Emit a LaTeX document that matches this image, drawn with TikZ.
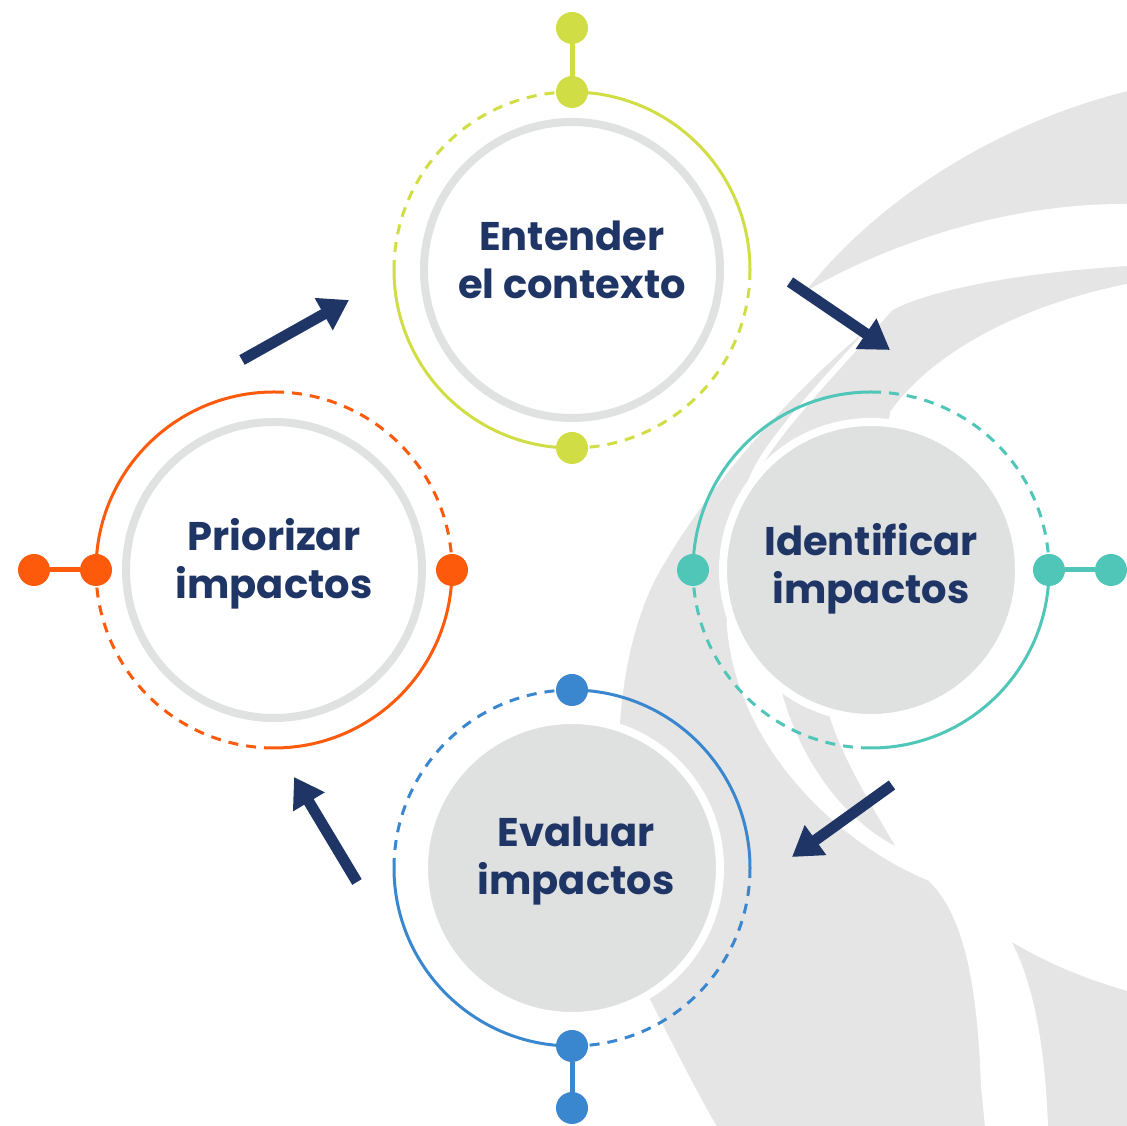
\documentclass[tikz,border=0pt]{standalone}
\usepackage{fontspec}
\setmainfont{Poppins}
\usetikzlibrary{positioning,arrows.meta}

\definecolor{navy}{HTML}{1F3566}
\definecolor{cLime}{HTML}{D0DD45}
\definecolor{cTeal}{HTML}{50C6B8}
\definecolor{cBlue}{HTML}{3A87D0}
\definecolor{cOrange}{HTML}{FE5A0C}
\definecolor{ringgray}{HTML}{E0E1E1}
\definecolor{hubgray}{HTML}{DFE0E0}
\definecolor{swirl}{HTML}{E5E5E5}

\tikzset{
  hub/.style={circle, minimum size=296pt, inner sep=0pt, line width=8pt},
  hubw/.style={hub, fill=white, draw=ringgray},
  hubg/.style={hub, fill=hubgray, draw=white},
  bead/.style={circle, minimum size=32pt, inner sep=0pt},
  lbl/.style={font=\bfseries\fontsize{40}{48}\selectfont, text=navy, align=center},
  solidarc/.style={line width=3pt},
  dasharc/.style={line width=3pt, dash pattern=on 10pt off 8pt},
  stem/.style={line width=5pt},
  flow/.style={line width=11pt, navy, -{Triangle[length=29pt,width=35pt]}},
  blade/.style={fill=swirl, draw=white, line width=6pt},
}

\begin{document}
\begin{tikzpicture}[x=1pt, y=1pt, on grid]
\useasboundingbox (0,0) rectangle (1127,1126);
%
% swirl in the back
\filldraw [blade] (1150,1045) -- (1127,1038) .. controls (975,1000) and (855,910) .. (793,823)
  .. controls (850,860) and (980,920) .. (1127,919) -- (1150,919) -- cycle;
\filldraw [blade] (890,818) .. controls (810,760) and (700,640) .. (650,543)
  .. controls (630,500) and (620,450) .. (617,403)
  .. controls (600,300) and (610,200) .. (648,124)
  .. controls (665,90) and (690,40) .. (713,0) -- (716,-20) -- (990,-20) -- (984,40)
  .. controls (980,150) and (965,215) .. (930,248)
  .. controls (840,285) and (740,380) .. (730,499)
  .. controls (728,560) and (735,610) .. (753,649)
  .. controls (770,690) and (840,760) .. (890,818) -- cycle;
\filldraw [blade] (1150,865) -- (1127,863) .. controls (1000,855) and (920,835) .. (890,818)
  .. controls (840,760) and (770,690) .. (753,649)
  .. controls (735,600) and (745,500) .. (778,436)
  .. controls (795,370) and (840,300) .. (903,273)
  .. controls (875,320) and (845,370) .. (833,409)
  -- (871,556) -- (893,713)
  .. controls (930,765) and (1010,815) .. (1127,839) -- (1150,839) -- cycle;
\filldraw [blade] (1003,193) .. controls (1040,170) and (1080,150) .. (1150,132)
  -- (1150,-20) -- (1045,-20) -- (1045,0)
  .. controls (1042,80) and (1030,150) .. (1003,193) -- cycle;
%
% the four steps
\node [hubw] (ctx) at (572,856) {};
\node [hubg, below right = 300pt and 299pt of ctx] (idf) {};
\node [hubg, below left = 298pt and 299pt of idf] (eva) {};
\node [hubw, below left = 300pt and 298pt of ctx] (pri) {};

\node [lbl, yshift=10pt] (ctx-t) at (ctx) {Entender\\el contexto};
\node [lbl, yshift=1pt] (idf-t) at (idf) {Identificar\\impactos};
\node [lbl, xshift=4pt, yshift=7pt] (eva-t) at (eva) {Evaluar\\impactos};
\node [lbl, yshift=6pt] (pri-t) at (pri) {Priorizar\\impactos};
%
% rings
\draw [solidarc, cLime] ([yshift=178pt]ctx.center) arc (90:0:178pt)
  ([yshift=-178pt]ctx.center) arc (270:180:178pt);
\draw [dasharc, cLime] ([xshift=178pt]ctx.center) arc (0:-90:178pt)
  ([xshift=-178pt]ctx.center) arc (180:90:178pt);
\node [bead, fill=cLime] (ctx-n) at ([yshift=178pt]ctx.center) {};
\node [bead, fill=cLime] (ctx-s) at ([yshift=-178pt]ctx.center) {};
\node [bead, fill=cLime, above = 64pt of ctx-n] (ctx-x) {};
\draw [stem, cLime] (ctx-n) -- (ctx-x);

\draw [solidarc, cTeal] ([xshift=-178pt]idf.center) arc (180:90:178pt)
  ([xshift=178pt]idf.center) arc (0:-90:178pt);
\draw [dasharc, cTeal] ([yshift=178pt]idf.center) arc (90:0:178pt)
  ([yshift=-178pt]idf.center) arc (270:180:178pt);
\node [bead, fill=cTeal] (idf-w) at ([xshift=-178pt]idf.center) {};
\node [bead, fill=cTeal] (idf-e) at ([xshift=178pt]idf.center) {};
\node [bead, fill=cTeal, right = 62pt of idf-e] (idf-x) {};
\draw [stem, cTeal] (idf-e) -- (idf-x);

\draw [solidarc, cBlue] ([yshift=178pt]eva.center) arc (90:0:178pt)
  ([yshift=-178pt]eva.center) arc (270:180:178pt);
\draw [dasharc, cBlue] ([xshift=178pt]eva.center) arc (0:-90:178pt)
  ([xshift=-178pt]eva.center) arc (180:90:178pt);
\node [bead, fill=cBlue] (eva-n) at ([yshift=178pt]eva.center) {};
\node [bead, fill=cBlue] (eva-s) at ([yshift=-178pt]eva.center) {};
\node [bead, fill=cBlue, below = 62pt of eva-s] (eva-x) {};
\draw [stem, cBlue] (eva-s) -- (eva-x);

\draw [solidarc, cOrange] ([xshift=-178pt]pri.center) arc (180:90:178pt)
  ([xshift=178pt]pri.center) arc (0:-90:178pt);
\draw [dasharc, cOrange] ([yshift=178pt]pri.center) arc (90:0:178pt)
  ([yshift=-178pt]pri.center) arc (270:180:178pt);
\node [bead, fill=cOrange] (pri-w) at ([xshift=-178pt]pri.center) {};
\node [bead, fill=cOrange] (pri-e) at ([xshift=178pt]pri.center) {};
\node [bead, fill=cOrange, left = 62pt of pri-w] (pri-x) {};
\draw [stem, cOrange] (pri-w) -- (pri-x);
%
% arrows
\coordinate (a1s) at (242,766); \coordinate (a1e) at (349,826);
\coordinate (a2s) at (790,844); \coordinate (a2e) at (890,776);
\coordinate (a3s) at (892,341); \coordinate (a3e) at (792,269);
\coordinate (a4s) at (357,244); \coordinate (a4e) at (294,349);
\draw [flow] (a1s) -- (a1e);
\draw [flow] (a2s) -- (a2e);
\draw [flow] (a3s) -- (a3e);
\draw [flow] (a4s) -- (a4e);
\end{tikzpicture}
\end{document}
